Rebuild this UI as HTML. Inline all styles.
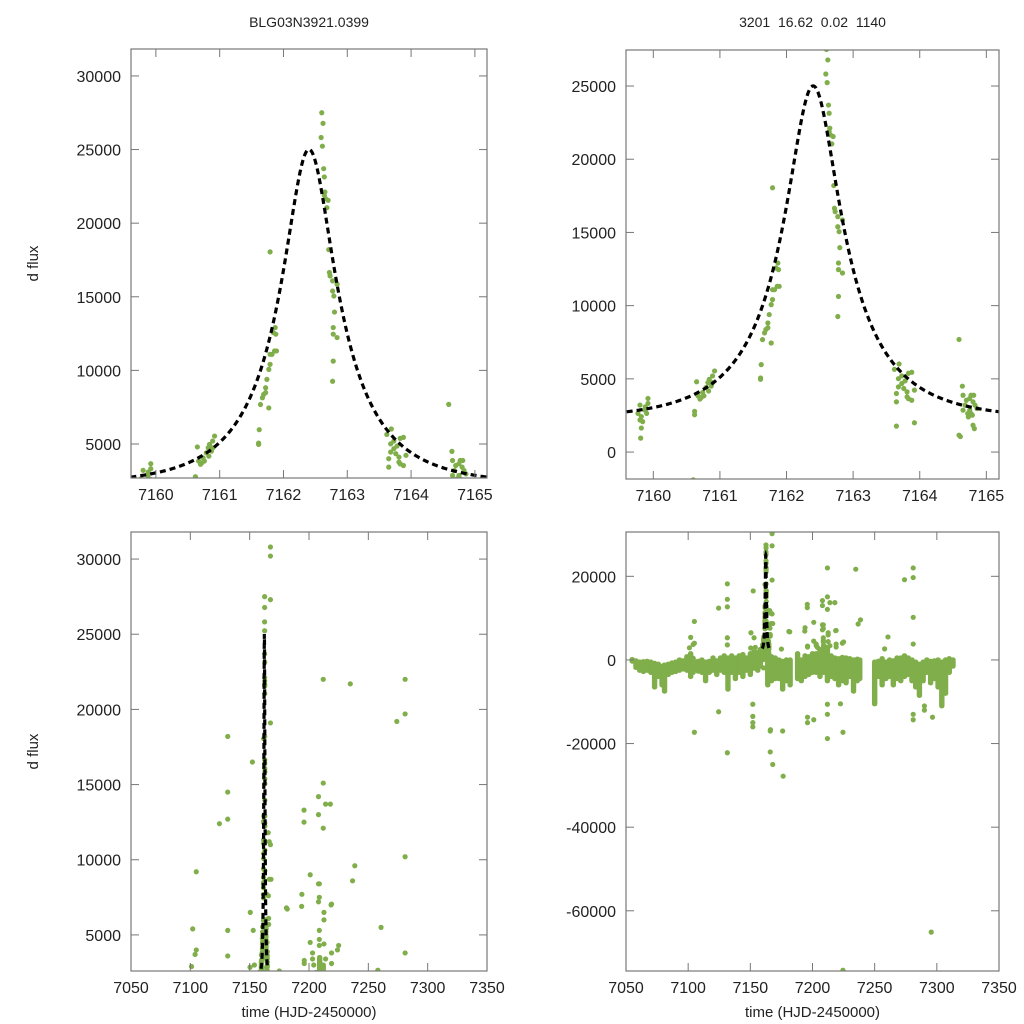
<!DOCTYPE html>
<html><head><meta charset="utf-8"><style>
html,body{margin:0;padding:0;background:#fff;width:1024px;height:1024px;overflow:hidden;}
svg{display:block;font-family:"Liberation Sans",Arial,sans-serif;}
</style></head><body>
<svg id="fig" width="1024" height="1024" viewBox="0 0 1024 1024"></svg>
<script>
// ---- data ----
const zoomT=[7159.80,7159.82,7159.87,7159.92,7159.80,7159.84,7159.82,7159.81,7159.90,7159.88,7159.77,7159.92,
7160.65,7160.62,7160.62,7160.60,7160.70,7160.74,7160.79,7160.84,7160.89,7160.92,7160.87,7160.76,7160.72,7160.82,7160.67,7160.89,7160.83,
7161.61,7161.62,7161.61,7161.64,7161.67,7161.69,7161.72,7161.74,7161.77,7161.79,7161.82,7161.86,7161.89,7161.79,7161.84,7161.88,7161.87,7161.79,7161.77,7161.72,
7162.60,7162.62,7162.59,7162.61,7162.63,7162.64,7162.65,7162.66,7162.70,7162.68,7162.64,7162.71,7162.73,7162.77,7162.77,7162.84,7162.79,7162.78,7162.84,7162.78,7162.78,7162.77,7162.72,7162.80,
7163.62,7163.65,7163.68,7163.69,7163.73,7163.78,7163.83,7163.88,7163.68,7163.76,7163.81,7163.83,7163.88,7163.92,7163.65,7163.65,7163.92,7163.81,7163.73,
7164.59,7164.64,7164.65,7164.70,7164.77,7164.80,7164.75,7164.81,7164.83,7164.86,7164.77,7164.68,7164.72,7164.73,7164.80,7164.82,7164.59,7164.61,7164.79,7164.75,7164.65];
const zoomV=[3210,2420,2870,3660,2190,2080,1640,950,2640,3090,2640,3320,
4800,2550,2780,-1900,3620,4060,4400,4970,5200,5540,4510,3840,3720,4740,3840,4740,4170,
5060,5970,4970,7680,8140,8370,8820,9390,10070,10410,11090,11320,11320,11090,12570,12460,12910,18050,7450,8490,
27500,26780,25820,25230,23700,23140,22120,21660,21550,21050,21890,18200,16420,16080,15390,15850,15050,12460,12230,12910,10630,9260,16650,13960,
5650,4000,5010,6020,5200,4860,5380,5450,4450,4340,4110,3650,3540,4230,3430,1770,2000,3770,4680,
7690,4500,3880,3540,3880,3430,3660,3880,3200,2970,2630,3200,2630,2400,1830,1600,1150,1060,2520,2860,2860];
const outT=[7105,7102,7105,7105,7131.5,7131.5,7131.5,7124.5,7131.5,7131.5,7124.5,7152.3,7150.5,7153,7152,7152,7152,7152,
7167.5,7167.5,7167.5,7167.5,7167.5,7168,7166.2,7166,7166,7168,7176.4,7176,7181,7195.8,7195.8,7196,7194,7201,7196,7196,7201,
7208,7208,7208,7208,7212,7212,7214,7218,7212,7212,7212,7212,7218.6,7222.5,7224.5,7224.5,7234.8,7236.7,7238.6,7260.7,7274,7281,7281,7281,7281,7281,7281,7290,7290,7296.5,7295.5,
7101,7104,7131.5,7150.3,7154,7181.7,7193.8,7208.7,7208.7,7212.6,7212.6,7219,7208.7,7208.7,7201,7208.7,7212.6,7214,7219,7225,7224,7203,7203,7204,7196,7219,7258,7166.6,7165.6,7166.5,7165.8,7166,7166,7175];
const outV=[9200,5400,4000,-17300,18200,14500,12700,12400,5300,-22200,-12400,16500,6500,5300,-10600,-13500,-15000,-16000,
30800,30200,27300,19100,11000,8700,-16700,-17000,-22000,-25000,-27800,-17000,6800,13300,12500,3300,7700,9000,-13700,-15000,-14300,
14200,13000,8400,7200,15100,12100,13700,13700,22000,-10600,-13000,-18800,7000,-10500,-17300,-74200,21700,8600,9600,5500,19200,22000,19700,10200,3800,-13000,-14300,-11000,-12000,-13700,-65100,
2900,3700,3600,2850,3000,6720,6900,8400,7500,6500,6000,7050,5300,4700,4500,4300,4400,3400,3800,4300,4000,3800,3400,3000,3100,3100,2650,8700,11800,11200,7600,6100,5700,2600];
const bandT=[7055,7058,7061,7064,7067,7070,7073,7076,7079,7081,7084,7087,7090,7093,7096,7099,7102,7104,7108,7111,7114,7117,7120,7123,7126,7129,7132,7135,7138,7141,7144,7147,7150,7153,7156,7158,7160,7164,7167,7170,7173,7176,7179,7182,7188,7191,7194,7197,7200,7203,7206,7209,7212,7215,7218,7221,7224,7227,7230,7233,7236,7238,7250,7253,7256,7259,7262,7265,7268,7271,7274,7277,7280,7283,7286,7289,7292,7295,7298,7301,7304,7307,7310,7313];
const bandLo=[-300,-1800,-2500,-2800,-2500,-3000,-6500,-4000,-6000,-7500,-3500,-3000,-2800,-2500,-2200,-2500,-4000,-3000,-2700,-3000,-5000,-3000,-2500,-3500,-2500,-3000,-7000,-3000,-4500,-3000,-4000,-2500,-3500,-2000,-2500,-1500,0,-6000,-5000,-4500,-4500,-7000,-5000,-6000,-4500,-5000,-4000,-3500,-3000,-3000,-4000,-3000,-5000,-4000,-4500,-6000,-5000,-5500,-4000,-7500,-5000,-4500,-10500,-4000,-6000,-4500,-4000,-6000,-4500,-5000,-4000,-3500,-5000,-6500,-8500,-5000,-3000,-5500,-4500,-6500,-11000,-8000,-3000,-1500];
const bandHi=[100,-200,-500,-400,-300,-500,-800,-1000,-1500,-1200,-1000,-700,-500,0,-200,800,1500,400,-300,0,-500,-300,500,-200,500,1000,500,1000,500,1000,1300,500,1500,2000,1800,2500,3000,2000,800,500,0,-300,0,0,1500,0,1000,800,1500,1500,2500,3500,3000,1000,500,300,600,500,300,0,200,0,-500,-300,300,-500,0,-200,500,500,1000,500,0,-500,-1000,-500,0,-300,-200,0,-500,0,300,0];
// model params (t0, tE, u0, baseline, scale)
const model=[7162.4,1.4,0.3,2200,9330];
const xTicksZoom=[7160,7161,7162,7163,7164,7165];
const xTicksFull=[7050,7100,7150,7200,7250,7300,7350];
const yTicksA=[5000,10000,15000,20000,25000,30000];
const yTicksB=[0,5000,10000,15000,20000,25000];
const yTicksC=[-60000,-40000,-20000,0,20000];

const NS="http://www.w3.org/2000/svg";
const svg=document.getElementById('fig');
function mk(tag,attrs,parent){const e=document.createElementNS(NS,tag);for(const k in attrs)e.setAttribute(k,attrs[k]);(parent||svg).appendChild(e);return e;}
function flux(t){const u=Math.sqrt(model[2]*model[2]+Math.pow((t-model[0])/model[1],2));const A=(u*u+2)/(u*Math.sqrt(u*u+4));return model[3]+model[4]*(A-1);}
const GREEN="#7fae4a";
function panel(id,L,R,T,B,x0,x1,y0,y1,xt,yt,band,title,xlabel,ylabel){
  const g=mk('g',{});
  
  
  const sx=t=>L+(t-x0)/(x1-x0)*(R-L), sy=v=>B-(v-y0)/(y1-y0)*(B-T);
  const cp=mk('clipPath',{id:'c'+id},g);mk('rect',{x:L,y:T,width:R-L,height:B-T},cp);
  const pg=mk('g',{'clip-path':'url(#c'+id+')'},g);
  
  
  if(band){for(let i=0;i<bandT.length;i++){const r=mk('rect',{x:sx(bandT[i])-2.7,y:sy(bandHi[i])-2.5,width:5.4,height:Math.max(5,sy(bandLo[i])-sy(bandHi[i])+5),rx:2.5,fill:GREEN},pg);
    
    }}
  const all=[[zoomT,zoomV],[outT,outV]];
  for(const [ts,vs] of all)for(let i=0;i<ts.length;i++){const c=mk('circle',{cx:sx(ts[i]),cy:sy(vs[i]),r:2.6,fill:GREEN},pg);
    
    }
  let d='';for(let k=0;k<=400;k++){const t=7159.6+k*(5.6/400);d+=(k?'L':'M')+sx(t).toFixed(2)+','+sy(flux(t)).toFixed(2);}
  const ln=mk('path',{d:d,fill:'none',stroke:'#000','stroke-width':3.2,'stroke-dasharray':'6,4'},pg);
  
  
  const fr=mk('rect',{x:L,y:T,width:R-L,height:B-T,fill:'none',stroke:'#777','stroke-width':1.2},g);
  
  
  for(const t of xt){const x=sx(t);mk('line',{x1:x,y1:B,x2:x,y2:B-8,stroke:'#777'},g);mk('line',{x1:x,y1:T,x2:x,y2:T+8,stroke:'#777'},g);
    const tx=mk('text',{x:x,y:B+22,'text-anchor':'middle','font-size':16,fill:'#222'},g);tx.textContent=t;
    
    }
  for(const v of yt){const y=sy(v);mk('line',{x1:L,y1:y,x2:L+8,y2:y,stroke:'#777'},g);mk('line',{x1:R,y1:y,x2:R-8,y2:y,stroke:'#777'},g);
    const tx=mk('text',{x:L-10,y:y+6,'text-anchor':'end','font-size':16,fill:'#222'},g);tx.textContent=v;
    
    }
  if(title){const tt=mk('text',{x:(L+R)/2,y:27,'text-anchor':'middle','font-size':14,fill:'#222',style:'white-space:pre'},g);tt.textContent=title;
    
    }
  if(xlabel){const tt=mk('text',{x:(L+R)/2,y:1017,'text-anchor':'middle','font-size':15,fill:'#222'},g);tt.textContent=xlabel;
    
    }
  if(ylabel){const cy=(T+B)/2;const tt=mk('text',{x:38,y:cy,'text-anchor':'middle','font-size':15,fill:'#222',transform:'rotate(-90 38 '+cy+')'},g);tt.textContent=ylabel;
    
    }
}
panel('panel-top-left',131,487,49,478,7159.61,7165.19,2690,31830,xTicksZoom,yTicksA,false,'BLG03N3921.0399',null,'d flux');
panel('panel-top-right',626,999,50,479,7159.59,7165.19,-1840,27460,xTicksZoom,yTicksB,false,'3201  16.62  0.02  1140',null,null);
panel('panel-bottom-left',131,487,532,971,7050,7350,2600,31800,xTicksFull,yTicksA,true,null,'time (HJD-2450000)','d flux');
panel('panel-bottom-right',626,999,532,971,7050,7350,-74400,30600,xTicksFull,yTicksC,true,null,'time (HJD-2450000)',null);
</script>
</body></html>
